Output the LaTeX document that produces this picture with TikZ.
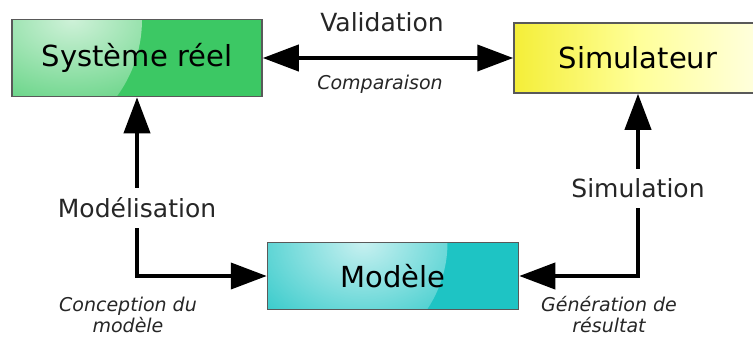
\documentclass[tikz,border=0pt]{standalone}
\usepackage{fontspec}
\setmainfont{DejaVu Sans}
\usetikzlibrary{positioning}
\usetikzlibrary{arrows.meta}
\definecolor{sys-green}{HTML}{3CC864}
\definecolor{sim-yellow}{HTML}{F4EE38}
\definecolor{mod-cyan}{HTML}{1EC4C4}
\tikzset{
  >={Triangle[length=36pt,width=26pt]},
  block/.style={draw=black!65, line width=1.5pt, inner sep=0pt,
    font=\fontsize{29}{34}\selectfont},
  glow/.style n args={3}{path picture={
    \fill[inner color=white!75!#1, outer color=#1]
      ([xshift=#2]path picture bounding box.north west) circle (#3);}},
  link/.style={line width=4pt, <->},
  link-name/.style={font=\fontsize{25}{30}\selectfont, text=black!85},
  link-note/.style={font=\fontsize{19}{21}\selectfont\itshape, align=center, text=black!85},
}
\begin{document}
\begin{tikzpicture}[x=1pt, y=-1pt]
\useasboundingbox (0,0) rectangle (753,338);
\node[block, fill=sys-green, glow={sys-green}{0pt}{130pt},
  minimum width=250pt, minimum height=77pt] at (137,58) (systeme) {Système réel};
\node[block, left color=sim-yellow, right color=yellow!12, middle color=yellow!40,
  minimum width=248pt, minimum height=70pt] at (638,58) (simulateur) {Simulateur};
\node[block, fill=mod-cyan, glow={mod-cyan}{60pt}{120pt},
  minimum width=251pt, minimum height=67pt] at (393,276) (modele) {Modèle};
% validation
\draw[link] (systeme.east) -- (simulateur.west)
  node[midway, above=21pt, xshift=-6pt, link-name] {Validation}
  node[midway, below=12pt, xshift=-8pt, link-note] {Comparaison};
% modelisation
\draw[link] (systeme.south) |- (modele.west)
  node[pos=0.31, fill=white, inner ysep=10pt, link-name] {Modélisation};
\node[link-note] at (128,315) (conception) {Conception du\\modèle};
% simulation
\draw[link] (simulateur.south) |- (modele.east)
  node[pos=0.26, fill=white, inner ysep=10pt, link-name] {Simulation};
\node[link-note] at (609,315) (generation) {Génération de\\résultat};
\end{tikzpicture}
\end{document}
